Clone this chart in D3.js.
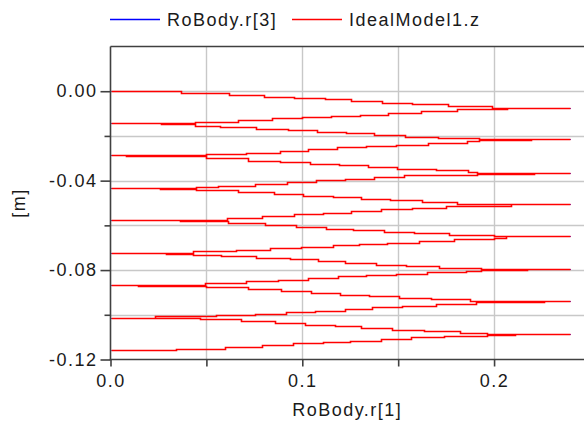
<!DOCTYPE html>
<html>
<head>
<meta charset="utf-8">
<script src="https://cdn.jsdelivr.net/npm/d3@7"></script>
<style>
body { margin: 0; background: #fff; }
svg text { font-family: "Liberation Sans", Arial, sans-serif; font-size: 18px; fill: #1a1a1a; }
</style>
</head>
<body>
<svg width="584" height="425"></svg>
<script>
// x position of the body (RoBody.r[1]) at each step, one pass per line
var rX = [
  0, 0.0367, 0.0617, 0.0801, 0.0957, 0.1120, 0.1256, 0.1414, 0.1574, 0.1760, 0.1991, 0.2395,
  0.2068, 0.1991, 0.1807, 0.1619, 0.1447, 0.1300, 0.1149, 0.1001, 0.0843, 0.0665, 0.0443, 0,
  0.0265, 0.0443, 0.0570, 0.0758, 0.0926, 0.1077, 0.1227, 0.1374, 0.1536, 0.1710, 0.1922, 0.2395,
  0.2191, 0.1922, 0.1861, 0.1657, 0.1491, 0.1334, 0.1181, 0.1030, 0.0883, 0.0709, 0.0500, 0,
  0.0083, 0.0500, 0.0717, 0.0883, 0.1039, 0.1190, 0.1343, 0.1496, 0.1696, 0.1864, 0.1913, 0.2395,
  0.2209, 0.1913, 0.1696, 0.1531, 0.1374, 0.1222, 0.1074, 0.0921, 0.0752, 0.0561, 0.0448, 0,
  0.0257, 0.0448, 0.0665, 0.0851, 0.1004, 0.1161, 0.1308, 0.1458, 0.1626, 0.1809, 0.1983, 0.2395,
  0.2087, 0.1983, 0.1748, 0.1574, 0.1409, 0.1256, 0.1108, 0.0956, 0.0790, 0.0608, 0,
  0.0361, 0.0613, 0.0804, 0.0969, 0.1126, 0.1266, 0.1426, 0.1583, 0.1765, 0.2000, 0.2395,
  0.2061, 0.2000, 0.1791, 0.1609, 0.1444, 0.1296, 0.1161, 0.0995, 0.0831, 0.0656, 0.0431, 0,
  0.0291, 0.0431, 0.0578, 0.0761, 0.0935, 0.1082, 0.1222, 0.1383, 0.1540, 0.1713, 0.1931, 0.2395,
  0.2171, 0.1931, 0.1852, 0.1649, 0.1487, 0.1331, 0.1187, 0.1030, 0.0874, 0.0709, 0.0492, 0,
  0.0144, 0.0500, 0.0717, 0.0891, 0.1047, 0.1196, 0.1348, 0.1505, 0.1673, 0.1875, 0.2395,
  0.2261, 0.1905, 0.1696, 0.1522, 0.1365, 0.1222, 0.1065, 0.0917, 0.0752, 0.0552, 0.0231, 0,
  0.0466, 0.0682, 0.0857, 0.1013, 0.1169, 0.1305, 0.1470, 0.1635, 0.1823, 0.1965, 0.2395,
  0.2108, 0.1965, 0.1739, 0.1566, 0.1409, 0.1249, 0.1108, 0.0952, 0.0790, 0.0599, 0.0344, 0
];
// height (IdealModel1.z / RoBody.r[3]) taken from that step on
var rZ = [
  0, -0.00076, -0.00166, -0.00255, -0.00322, -0.00367, -0.00430, -0.00510, -0.00582, -0.00658, -0.00730, -0.00730,
  -0.00775, -0.00806, -0.00895, -0.00971, -0.01047, -0.01092, -0.01137, -0.01195, -0.01285, -0.01361, -0.01419, -0.01419,
  -0.01464, -0.01540, -0.01598, -0.01674, -0.01746, -0.01822, -0.01880, -0.01956, -0.02032, -0.02090, -0.02135, -0.02135,
  -0.02180, -0.02238, -0.02314, -0.02390, -0.02449, -0.02493, -0.02583, -0.02672, -0.02748, -0.02807, -0.02851, -0.02851,
  -0.02895, -0.02986, -0.03107, -0.03165, -0.03241, -0.03299, -0.03375, -0.03465, -0.03536, -0.03612, -0.03644, -0.03644,
  -0.03688, -0.03733, -0.03760, -0.03836, -0.03939, -0.03990, -0.04060, -0.04150, -0.04226, -0.04284, -0.04315, -0.04315,
  -0.04360, -0.04405, -0.04508, -0.04611, -0.04700, -0.04745, -0.04808, -0.04879, -0.04955, -0.05031, -0.05065, -0.05065,
  -0.05120, -0.05148, -0.05224, -0.05282, -0.05358, -0.05434, -0.05506, -0.05582, -0.05658, -0.05761, -0.05761,
  -0.05806, -0.05895, -0.05971, -0.06074, -0.06150, -0.06222, -0.06298, -0.06356, -0.06419, -0.06491, -0.06491,
  -0.06544, -0.06598, -0.06701, -0.06777, -0.06835, -0.06893, -0.06956, -0.07028, -0.07104, -0.07162, -0.07225, -0.07225,
  -0.07270, -0.07314, -0.07386, -0.07449, -0.07520, -0.07596, -0.07672, -0.07762, -0.07834, -0.07896, -0.07950, -0.07950,
  -0.08000, -0.08057, -0.08102, -0.08178, -0.08236, -0.08281, -0.08357, -0.08460, -0.08505, -0.08581, -0.08657, -0.08657,
  -0.08702, -0.08774, -0.08863, -0.08953, -0.09029, -0.09096, -0.09163, -0.09239, -0.09311, -0.09387, -0.09387,
  -0.09431, -0.09534, -0.09611, -0.09669, -0.09731, -0.09834, -0.09893, -0.09969, -0.10027, -0.10072, -0.10148, -0.10148,
  -0.10206, -0.10295, -0.10385, -0.10461, -0.10519, -0.10595, -0.10671, -0.10743, -0.10806, -0.10840, -0.10840,
  -0.10895, -0.10954, -0.11012, -0.11088, -0.11164, -0.11200, -0.11280, -0.11370, -0.11446, -0.11522, -0.11594, -0.11594
];
var seriesNames = ["RoBody.r[3]", "IdealModel1.z"];
var seriesColors = ["#0000ff", "#ff0000"];
var xTicks = [0, 0.1, 0.2];
var xMinor = [0.05, 0.15];
var yTicks = [0, -0.04, -0.08, -0.12];
var yMinor = [-0.02, -0.06, -0.10];
var xTitle = "RoBody.r[1]";
var yTitle = "[m]";

var svg = d3.select("svg");
var pLeft = 110.5, pRight = 584, pTop = 46.5, pBottom = 359.5;
var x = d3.scaleLinear().domain([0, 0.2471]).range([pLeft, pRight + 0.4]);
var y = d3.scaleLinear().domain([0.02, -0.12]).range([pTop, pBottom]);

// grid
var grid = svg.append("g").attr("stroke", "#c8c8c8").attr("stroke-width", 1.4);
grid.selectAll(".gx").data(xTicks.concat(xMinor).filter(function(d){ return d > 0; })).enter().append("line")
  .attr("x1", function(d){ return Math.round(x(d)) + 0.5; }).attr("x2", function(d){ return Math.round(x(d)) + 0.5; })
  .attr("y1", pTop).attr("y2", pBottom);
grid.selectAll(".gy").data(yTicks.concat(yMinor).filter(function(d){ return d > -0.12; })).enter().append("line")
  .attr("y1", function(d){ return Math.round(y(d)) + 0.5; }).attr("y2", function(d){ return Math.round(y(d)) + 0.5; })
  .attr("x1", pLeft).attr("x2", pRight);

// curves: blue first, red drawn over it (snapped to pixel centres so red covers blue)
var pts = rX.map(function(v, i){ return [v, rZ[i]]; });
var line = d3.line().curve(d3.curveStepAfter)
  .x(function(d){ return Math.round(x(d[0])) + 0.5; })
  .y(function(d){ return Math.round(y(d[1])) + 0.5; });
var widths = [1, 1.6];
seriesNames.forEach(function(name, k) {
  svg.append("path").attr("d", line(pts)).attr("fill", "none")
    .attr("stroke", seriesColors[k]).attr("stroke-width", widths[k]);
});

// frame
var frame = svg.append("g").attr("stroke", "#404040").attr("stroke-width", 1.6);
frame.append("line").attr("x1", pLeft).attr("x2", pLeft).attr("y1", pTop).attr("y2", pBottom + 0.8);
frame.append("line").attr("x1", pLeft).attr("x2", pRight).attr("y1", pTop).attr("y2", pTop);
frame.append("line").attr("x1", pLeft - 0.8).attr("x2", pRight).attr("y1", pBottom).attr("y2", pBottom);

// axes
svg.append("g").attr("transform", "translate(" + pLeft + ",0)")
  .call(d3.axisLeft(y).tickValues(yTicks).tickSize(10).tickPadding(3).tickFormat(function(d){ return d.toFixed(2); }));
svg.append("g").attr("transform", "translate(" + pLeft + ",0)")
  .call(d3.axisLeft(y).tickValues(yMinor).tickSize(6).tickFormat(""));
svg.append("g").attr("transform", "translate(0," + pBottom + ")")
  .call(d3.axisBottom(x).tickValues(xTicks).tickSize(7).tickPadding(8).tickFormat(function(d){ return d.toFixed(1); }));
svg.append("g").attr("transform", "translate(0," + pBottom + ")")
  .call(d3.axisBottom(x).tickValues(xMinor).tickSize(7).tickFormat(""));
svg.selectAll(".domain").remove();
svg.selectAll(".tick line").attr("stroke", "#404040").attr("stroke-width", 1.6);
svg.selectAll(".tick text").attr("font-size", null).attr("font-family", null).style("letter-spacing", "1.5px");

// titles
svg.append("text").attr("x", (pLeft + pRight) / 2).attr("y", 416).attr("text-anchor", "middle")
  .style("letter-spacing", "1.5px").text(xTitle);
svg.append("text").attr("transform", "translate(25," + ((pTop + pBottom) / 2) + ") rotate(-90)")
  .attr("text-anchor", "middle").style("letter-spacing", "1.5px").text(yTitle);

// legend
var lx = [110, 292];
seriesNames.forEach(function(name, k) {
  svg.append("line").attr("x1", lx[k]).attr("x2", lx[k] + 50).attr("y1", 19.5).attr("y2", 19.5)
    .attr("stroke", seriesColors[k]).attr("stroke-width", 1.3);
  svg.append("text").attr("x", lx[k] + 57).attr("y", 26).style("letter-spacing", "1.5px").text(name);
});
</script>
</body>
</html>
